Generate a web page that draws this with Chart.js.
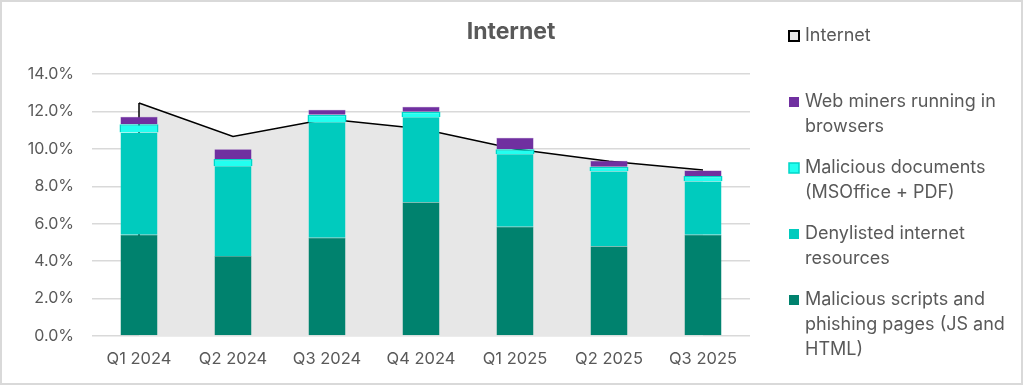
<!DOCTYPE html>
<html>
<head>
<meta charset="utf-8">
<script src="https://cdn.jsdelivr.net/npm/chart.js@4"></script>
<style>
  html, body { margin: 0; padding: 0; background: #fff; }
  #wrap { position: relative; width: 1024px; height: 386px; }
  #chart { position: absolute; left: 0; top: 0; }
  #frame { position: absolute; left: 0; top: 0; width: 1023px; height: 385px;
           box-sizing: border-box; border: 2px solid #d9d9d9; pointer-events: none; }
</style>
</head>
<body>
<div id="wrap">
  <canvas id="chart" width="1024" height="386"></canvas>
  <div id="frame"></div>
</div>
<script>
// Data (percent)
const quarters = ['Q1 2024', 'Q2 2024', 'Q3 2024', 'Q4 2024', 'Q1 2025', 'Q2 2025', 'Q3 2025'];
const internetTotal = [12.45, 10.66, 11.59, 11.08, 9.99, 9.34, 8.87];
const maliciousScripts = [5.41, 4.27, 5.25, 7.15, 5.84, 4.79, 5.41];
const denylisted = [5.46, 4.82, 6.18, 4.55, 3.88, 4.02, 2.86];
const maliciousDocs = [0.45, 0.37, 0.39, 0.28, 0.26, 0.24, 0.28];
const webMiners = [0.39, 0.52, 0.27, 0.27, 0.62, 0.31, 0.29];
const yTicks = [0, 2, 4, 6, 8, 10, 12, 14];

const chartTitle = 'Internet';
const legendLabels = [
  ['Internet'],
  ['Web miners running in', 'browsers'],
  ['Malicious documents', '(MSOffice + PDF)'],
  ['Denylisted internet', 'resources'],
  ['Malicious scripts and', 'phishing pages (JS and', 'HTML)']
];

// Colors
const textColor = '#595959';
const gridColor = '#d9d9d9';
const areaColor = '#e7e7e7';
const colorScripts = '#00826e';
const colorDeny = '#00cbbe';
const colorDocs = '#22fff0';
const colorDocsBorder = '#00d6c8';
const colorMiners = '#7030a0';

const fontFamily = 'Inter, "Noto Sans", sans-serif';

// Left edge of the area border (Excel area style)
const areaEdges = {
  id: 'areaEdges',
  afterDatasetDraw(chart, args) {
    if (args.index !== 0) return;
    const meta = chart.getDatasetMeta(0);
    const yScale = chart.scales.y;
    const ctx = chart.ctx;
    const first = meta.data[0];
    const base = yScale.getPixelForValue(0) - 2;
    ctx.save();
    ctx.strokeStyle = '#000';
    ctx.lineWidth = 1.5;
    ctx.beginPath();
    ctx.moveTo(first.x, base);
    ctx.lineTo(first.x, first.y);
    ctx.stroke();
    ctx.restore();
  }
};

// Title + legend drawn on the canvas
const titleAndLegend = {
  id: 'titleAndLegend',
  afterDraw(chart) {
    const ctx = chart.ctx;
    ctx.save();
    ctx.fillStyle = textColor;
    ctx.textBaseline = 'middle';
    ctx.textAlign = 'center';
    ctx.font = 'bold 23px ' + fontFamily;
    ctx.fillText(chartTitle, 511, 32);

    ctx.textAlign = 'left';
    ctx.font = '18px ' + fontFamily;
    const markers = [
      { fill: areaColor, stroke: '#000', lw: 2 },
      { fill: colorMiners },
      { fill: colorDocs, stroke: colorDocsBorder, lw: 1.5 },
      { fill: colorDeny },
      { fill: colorScripts }
    ];
    const startY = 36;
    const itemStep = 66;
    const lineH = 25;
    legendLabels.forEach((lines, i) => {
      const y = startY + i * itemStep;
      const m = markers[i];
      const size = 10;
      ctx.fillStyle = m.fill;
      ctx.fillRect(789, y - size / 2, size, size);
      if (m.stroke) {
        ctx.strokeStyle = m.stroke;
        ctx.lineWidth = m.lw;
        ctx.strokeRect(789, y - size / 2, size, size);
      }
      ctx.fillStyle = textColor;
      lines.forEach((t, j) => ctx.fillText(t, 805, y + j * lineH));
    });
    ctx.restore();
  }
};

const ctx = document.getElementById('chart').getContext('2d');
new Chart(ctx, {
  data: {
    labels: quarters,
    datasets: [
      {
        type: 'line',
        label: 'Internet',
        data: internetTotal,
        borderColor: '#000',
        borderWidth: 1.5,
        backgroundColor: areaColor,
        fill: 'origin',
        pointRadius: 0,
        tension: 0,
        order: 2
      },
      {
        type: 'bar',
        label: 'Malicious scripts and phishing pages (JS and HTML)',
        data: maliciousScripts,
        backgroundColor: colorScripts,
        borderColor: '#3a9c8c',
        borderWidth: 0.5,
        order: 1
      },
      {
        type: 'bar',
        label: 'Denylisted internet resources',
        data: denylisted,
        backgroundColor: colorDeny,
        borderColor: '#3fd8cd',
        borderWidth: 0.5,
        order: 1
      },
      {
        type: 'bar',
        label: 'Malicious documents (MSOffice + PDF)',
        data: maliciousDocs,
        backgroundColor: colorDocs,
        borderColor: colorDocsBorder,
        borderWidth: 1.5,
        barPercentage: 0.415,
        order: 1
      },
      {
        type: 'bar',
        label: 'Web miners running in browsers',
        data: webMiners,
        backgroundColor: colorMiners,
        borderColor: '#8a55b3',
        borderWidth: 0.5,
        order: 1
      }
    ]
  },
  options: {
    responsive: false,
    animation: false,
    devicePixelRatio: 1,
    layout: { padding: { top: 74, right: 274, bottom: 0, left: 0 } },
    datasets: {
      bar: { categoryPercentage: 1, barPercentage: 0.395 }
    },
    plugins: {
      legend: { display: false },
      title: { display: false },
      tooltip: { enabled: false }
    },
    scales: {
      x: {
        stacked: true,
        grid: { display: false, drawTicks: false },
        border: { display: false },
        ticks: { color: textColor, font: { family: fontFamily, size: 16.5 }, padding: 13, maxRotation: 0 },
        afterFit: (s) => { s.height = 50; }
      },
      y: {
        stacked: true,
        min: 0,
        max: 14,
        afterBuildTicks: (s) => { s.ticks = yTicks.map(v => ({ value: v })); },
        grid: { color: gridColor, lineWidth: 1.5, drawTicks: false },
        border: { display: false },
        ticks: {
          color: textColor,
          font: { family: fontFamily, size: 16 },
          padding: 18,
          callback: (v) => v.toFixed(1) + '%'
        },
        afterFit: (s) => { s.width = 92; }
      }
    }
  },
  plugins: [areaEdges, titleAndLegend]
});
</script>
</body>
</html>
